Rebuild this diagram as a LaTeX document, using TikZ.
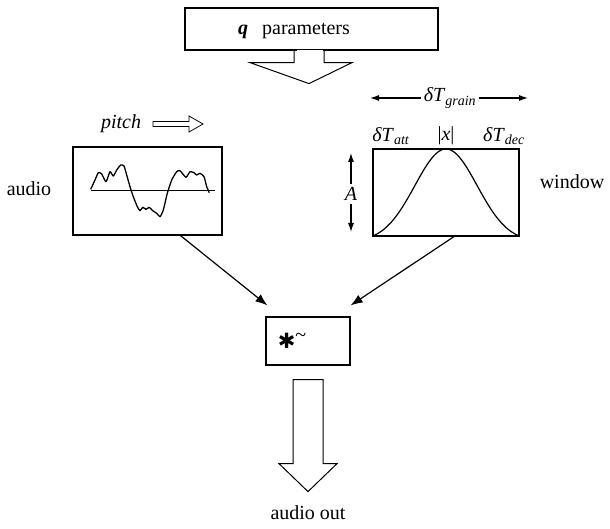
\documentclass[tikz,border=0pt]{standalone}
\usepackage{fontspec}
\setmainfont{Liberation Serif}
\newfontfamily\symfont{DejaVu Sans}
\usetikzlibrary{arrows.meta,positioning,calc}

\begin{document}
\begin{tikzpicture}[
    x=1pt, y=-1pt,
    font=\fontsize{20}{23}\selectfont,
    box/.style={
        rectangle,
        draw,
        line width=1.2pt,
        inner sep=0pt
    },
    label/.style={
        inner sep=3pt
    },
    arrow/.style={
        -{Latex[length=12pt,width=9pt]},
        line width=1.2pt
    },
    smallarrow/.style={
        -{Latex[length=9pt,width=6pt]},
        line width=1.1pt
    },
    blockarrow/.style={
        draw,
        fill=white,
        line width=1pt,
        line join=miter
    }
]
\useasboundingbox (0,0) rectangle (610,529);

% =========================
% Parameters on top
% =========================

\node[box, minimum width=253pt, minimum height=42pt] (params) at (311.5,29) {};
\node[label] (paramtext) at (294,31)
{\textbf{\textit{q}}\hspace{14pt}parameters};

\fill[white] ([xshift=-14.4pt,yshift=1pt]params.south) rectangle ([xshift=11.4pt,yshift=-1pt]params.south);
\draw[blockarrow, fill=none]
([xshift=-17.5pt]params.south)
-- ++(0,12) -- ++(-44,0) -- ++(59,21) -- ++(43,-21) -- ++(-28,0) -- ++(0,-12);

% =========================
% Audio input
% =========================

\node[box, minimum width=149pt, minimum height=88pt] (audio) at (147.5,191) {};
\node[label] (audiotext) at (29,189) {audio};
\node[label] (pitch) at (121,124) {\textit{pitch}};

\draw[line width=0.8pt]
(153,121.5) -- (189,121.5) -- (189,116) -- (203,124) -- (189,132) -- (189,126.5) -- (153,126.5) -- cycle;

\draw[line width=1.1pt] (90.7,190.7) -- (215,190.7);
\draw[line width=1.3pt, line join=round]
plot[smooth, tension=0.35] coordinates {
(90.7,189.3) (95,180) (98.3,172.7) (101.7,174) (106,181.7) (110,171.7)
(113.3,176) (116.7,170) (120.7,165) (124,166) (126.7,175) (130,186.7)
(133.3,196.7) (137.3,206.7) (140,210.7) (142.7,207.3) (146,209.3)
(149.3,207.3) (152.7,210.7) (156.7,213.3) (160,216.7) (163.3,210)
(167.3,193.3) (171.7,180) (176.7,171.7) (180,170.7) (186,177.3)
(190,171.7) (194,172.7) (196.7,175) (200,173.3) (204,176.7)
(206.7,186.7) (209.3,192.7)};

% =========================
% Window
% =========================

\node[box, minimum width=146pt, minimum height=87pt] (window) at (446,192.5) {};
\node[label] (windowtext) at (572,182) {window};

\node[label] (grain) at (450,98) {\textit{δT}\textsubscript{\textit{grain}}};
\coordinate (grainL) at (370,98);
\coordinate (grainR) at (528,98);
\draw[smallarrow] (grain.west) -- (grainL);
\draw[smallarrow] (grain.east) -- (grainR);

\node[label] (att) at (391,136) {\textit{δT}\textsubscript{\textit{att}}};
\node[label] (peak) at (446,136) {|\textit{x}|};
\node[label] (dec) at (504,136) {\textit{δT}\textsubscript{\textit{dec}}};

\node[label] (amp) at (351,194) {\textit{A}};
\coordinate (ampT) at (351,153);
\coordinate (ampB) at (351,232);
\draw[smallarrow] (amp.north) -- (ampT);
\draw[smallarrow] (amp.south) -- (ampB);

\draw[line width=1.2pt, domain=-73:73, samples=80, smooth]
plot ({446+\x}, {236-87*(exp(-(\x/44)^2)-exp(-(73/44)^2))/(1-exp(-(73/44)^2))});

% =========================
% Combination and output
% =========================

\node[box, minimum width=84pt, minimum height=48pt] (mult) at (308,341) {};
\node[label] (multtext) at (292,341)
{{\symfont\fontsize{21}{24}\selectfont ✱}\raisebox{7pt}{\textasciitilde}};

\draw[arrow] ([xshift=33pt]audio.south) -- ([xshift=2pt,yshift=11pt]mult.north west);
\draw[arrow] ([xshift=8pt]window.south) -- ([yshift=11pt]mult.north east);

\coordinate (outtop) at ([yshift=-14pt]mult.south);
\draw[blockarrow]
(outtop) ++(-15,0) -- ++(0,84) -- ++(-14,0) -- ++(29,28) -- ++(29,-28) -- ++(-14,0) -- ++(0,-84) -- cycle;

\node[label] (audioout) at (308,513) {audio out};

\end{tikzpicture}
\end{document}
